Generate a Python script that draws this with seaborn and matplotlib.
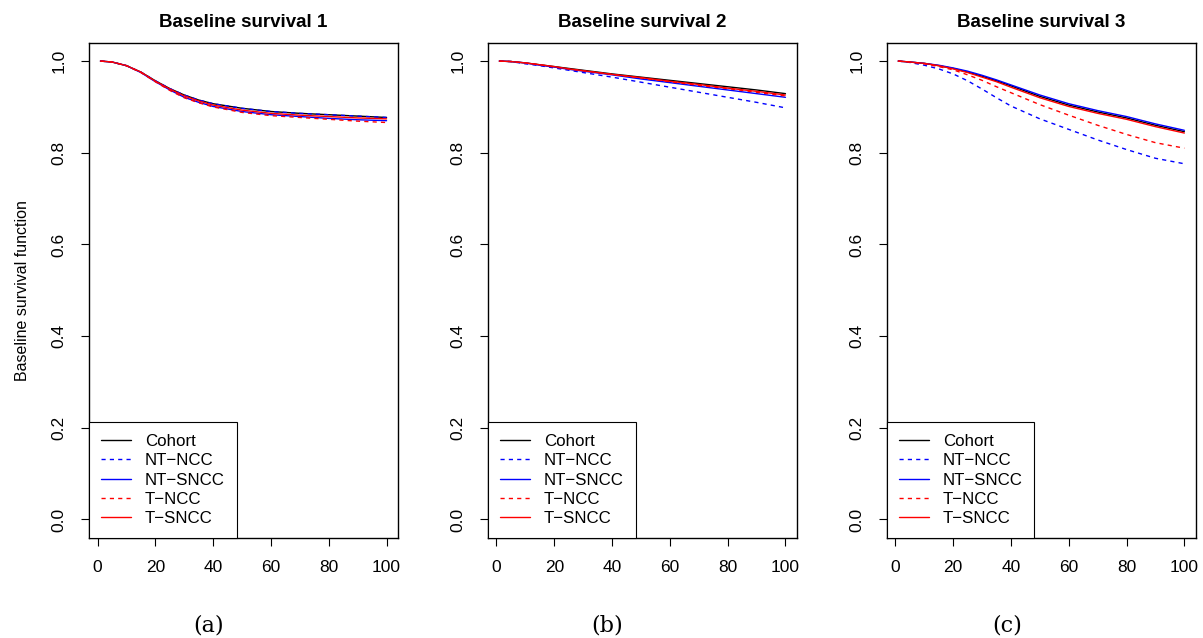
import pandas as pd
import seaborn as sns
import matplotlib.pyplot as plt
from matplotlib.lines import Line2D

# tiempos donde se leen las curvas
tiempo = [1, 5, 10, 15, 20, 25, 30, 35, 40, 50, 60, 70, 80, 90, 100]

metodos = ["Cohort", "NT\u2212NCC", "NT\u2212SNCC", "T\u2212NCC", "T\u2212SNCC"]

# Baseline survival 1
s1_cohort = [1.000, 0.998, 0.990, 0.976, 0.957, 0.940, 0.926, 0.915, 0.907, 0.897, 0.890, 0.886, 0.883, 0.880, 0.877]
s1_ntncc = [1.000, 0.998, 0.990, 0.976, 0.957, 0.940, 0.926, 0.915, 0.907, 0.897, 0.890, 0.886, 0.883, 0.880, 0.877]
s1_ntsncc = [1.000, 0.998, 0.990, 0.975, 0.955, 0.937, 0.921, 0.910, 0.901, 0.890, 0.883, 0.879, 0.875, 0.872, 0.870]
s1_tncc = [1.000, 0.998, 0.990, 0.975, 0.955, 0.936, 0.920, 0.909, 0.900, 0.888, 0.881, 0.877, 0.873, 0.869, 0.866]
s1_tsncc = [1.000, 0.998, 0.990, 0.976, 0.956, 0.939, 0.924, 0.913, 0.904, 0.893, 0.886, 0.882, 0.879, 0.876, 0.874]

# Baseline survival 2
s2_cohort = [1.000, 0.999, 0.996, 0.992, 0.988, 0.984, 0.980, 0.976, 0.972, 0.965, 0.958, 0.951, 0.944, 0.937, 0.929]
s2_ntncc = [1.000, 0.999, 0.994, 0.990, 0.985, 0.980, 0.975, 0.970, 0.965, 0.954, 0.943, 0.932, 0.921, 0.910, 0.898]
s2_ntsncc = [1.000, 0.999, 0.996, 0.991, 0.987, 0.982, 0.978, 0.974, 0.970, 0.961, 0.953, 0.945, 0.937, 0.929, 0.921]
s2_tncc = [1.000, 0.999, 0.996, 0.992, 0.987, 0.983, 0.979, 0.975, 0.971, 0.963, 0.955, 0.947, 0.940, 0.932, 0.924]
s2_tsncc = [1.000, 0.999, 0.996, 0.992, 0.988, 0.983, 0.979, 0.975, 0.971, 0.964, 0.956, 0.949, 0.941, 0.934, 0.926]

# Baseline survival 3
s3_cohort = [1.000, 0.998, 0.995, 0.990, 0.984, 0.976, 0.967, 0.957, 0.946, 0.923, 0.904, 0.889, 0.876, 0.860, 0.846]
s3_ntncc = [1.000, 0.997, 0.991, 0.983, 0.972, 0.957, 0.939, 0.920, 0.902, 0.874, 0.851, 0.828, 0.807, 0.788, 0.776]
s3_ntsncc = [1.000, 0.998, 0.995, 0.991, 0.985, 0.978, 0.969, 0.959, 0.948, 0.926, 0.907, 0.892, 0.879, 0.863, 0.849]
s3_tncc = [1.000, 0.998, 0.994, 0.988, 0.981, 0.970, 0.958, 0.944, 0.931, 0.905, 0.882, 0.860, 0.840, 0.822, 0.810]
s3_tsncc = [1.000, 0.998, 0.995, 0.990, 0.983, 0.975, 0.965, 0.955, 0.943, 0.920, 0.901, 0.886, 0.873, 0.857, 0.843]

paneles = {
    "Baseline survival 1": [s1_cohort, s1_ntncc, s1_ntsncc, s1_tncc, s1_tsncc],
    "Baseline survival 2": [s2_cohort, s2_ntncc, s2_ntsncc, s2_tncc, s2_tsncc],
    "Baseline survival 3": [s3_cohort, s3_ntncc, s3_ntsncc, s3_tncc, s3_tsncc],
}
subtitulos = ["(a)", "(b)", "(c)"]

colores = dict(zip(metodos, ["black", "blue", "blue", "red", "red"]))
trazos = dict(zip(metodos, ["", (3, 3), "", (3, 3), ""]))

sns.set_style("white")
plt.rcParams["font.family"] = ["Liberation Sans", "DejaVu Sans"]
plt.rcParams["text.color"] = "black"
plt.rcParams["axes.labelcolor"] = "black"
plt.rcParams["xtick.color"] = "black"
plt.rcParams["ytick.color"] = "black"

fig, axes = plt.subplots(1, 3, figsize=(12.03, 6.38), dpi=100)
fig.subplots_adjust(left=0.074, right=0.994, bottom=0.157, top=0.933, wspace=0.291)

for ax, (titulo, series) in zip(axes, paneles.items()):
    filas = []
    for m, s in zip(metodos, series):
        for t, v in zip(tiempo, s):
            filas.append({"tiempo": t, "surv": v, "metodo": m})
    df = pd.DataFrame(filas)

    sns.lineplot(data=df, x="tiempo", y="surv", hue="metodo", style="metodo",
                 palette=colores, dashes=trazos, estimator=None, lw=1.0,
                 ax=ax, legend=False)

    ax.set_xlim(-2.96, 103.96)
    ax.set_ylim(-0.04, 1.04)
    ax.set_xticks([0, 20, 40, 60, 80, 100])
    ax.set_yticks([0.0, 0.2, 0.4, 0.6, 0.8, 1.0])
    ax.set_yticklabels(["0.0", "0.2", "0.4", "0.6", "0.8", "1.0"], rotation=90, va="center")
    ax.tick_params(axis="both", direction="out", length=6, width=0.8, color="black",
                   labelcolor="black", labelsize=12.5, pad=10, left=True, bottom=True)
    for sp in ax.spines.values():
        sp.set_color("black")
        sp.set_linewidth(1.0)
    ax.set_xlabel("")
    ax.set_ylabel("")
    ax.set_title(titulo, fontsize=13.5, fontweight="bold", pad=11, color="black")

    handles = []
    for m in metodos:
        h = Line2D([], [], color=colores[m], lw=1.0)
        if trazos[m]:
            h.set_dashes(trazos[m])
        handles.append(h)
    leg = ax.legend(handles, metodos, loc="lower left", bbox_to_anchor=(0, 0),
                    borderaxespad=0, fancybox=False, framealpha=1, edgecolor="black",
                    fontsize=12.2, handlelength=1.8, handletextpad=0.8,
                    labelspacing=0.25, borderpad=0.7, labelcolor="black")
    leg.get_frame().set_linewidth(0.8)

axes[0].set_ylabel("Baseline survival function", fontsize=11.5, labelpad=16, color="black")

for xc, sub in zip([0.173, 0.5046, 0.837], subtitulos):
    fig.text(xc, 0.02, sub, ha="center", va="center", fontsize=16,
             family="DejaVu Serif", color="black")

plt.savefig("out.png", dpi=100)
